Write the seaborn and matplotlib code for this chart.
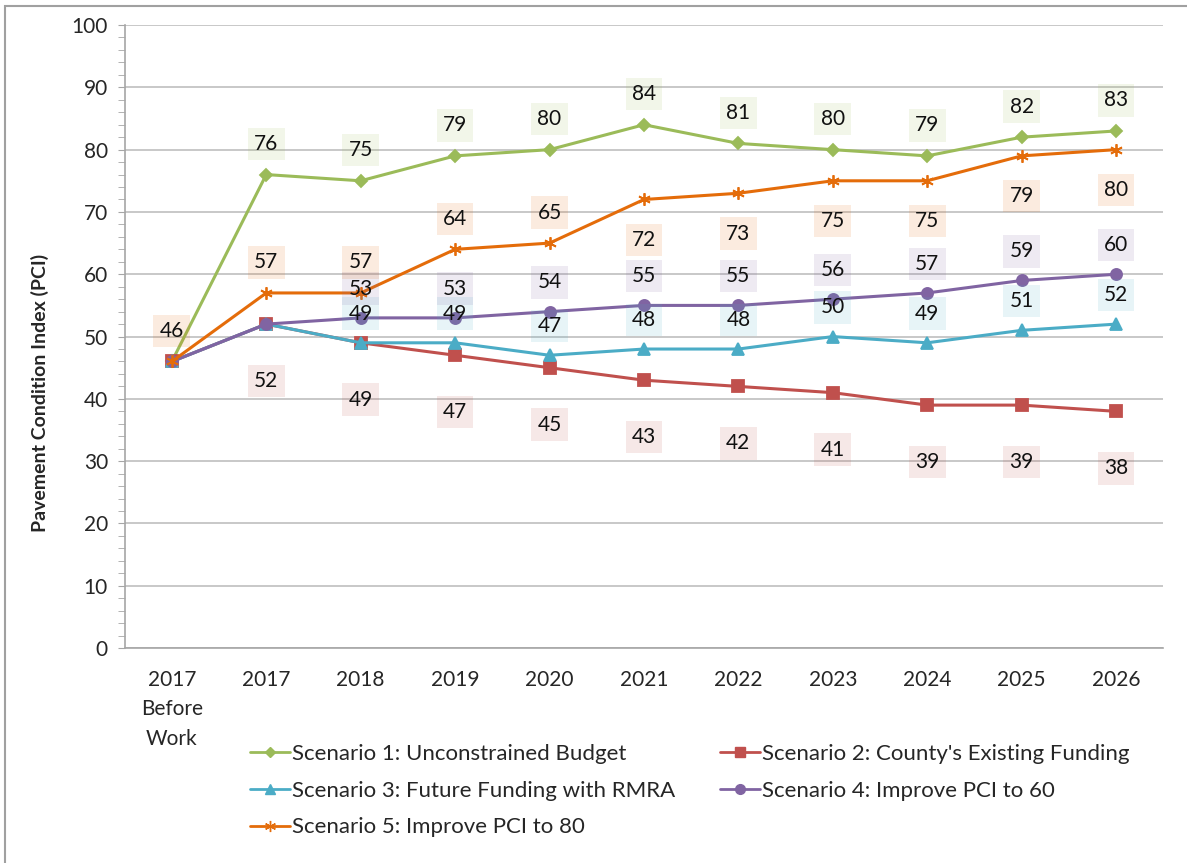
"""Pavement condition index by funding scenario."""

import matplotlib.pyplot as plt
from matplotlib.patches import Rectangle
from matplotlib.ticker import MultipleLocator
import pandas as pd
import seaborn as sns

years = ['2017\nBefore\nWork', '2017', '2018', '2019', '2020', '2021',
         '2022', '2023', '2024', '2025', '2026']
s1 = [46, 76, 75, 79, 80, 84, 81, 80, 79, 82, 83]
s2 = [46, 52, 49, 47, 45, 43, 42, 41, 39, 39, 38]
s3 = [46, 52, 49, 49, 47, 48, 48, 50, 49, 51, 52]
s4 = [46, 52, 53, 53, 54, 55, 55, 56, 57, 59, 60]
s5 = [46, 57, 57, 64, 65, 72, 73, 75, 75, 79, 80]
names = ['Scenario 1: Unconstrained Budget',
         "Scenario 2: County's Existing Funding",
         'Scenario 3: Future Funding with RMRA',
         'Scenario 4: Improve PCI to 60',
         'Scenario 5: Improve PCI to 80']

colors = ['#9BBB59', '#C0504D', '#4BACC6', '#8064A2', '#E46C0A']
markers = ['D', 's', '^', 'o', (6, 2, 0)]
sizes = [6, 8, 8, 8, 9]

# which points get a label, and on which side (+1 above, -1 below, 0 none)
sides = [
    [0] + [1] * 10,
    [0] + [-1] * 10,
    [0, 0] + [1] * 9,
    [0, 0] + [1] * 9,
    [1, 1, 1, 1, 1] + [-1] * 6,
]
# label distance from the point (points), above / below, per series
up = [22, 22, 21, 21, 22]
down = [-30, -41, -30, -30, -29]

series = [s1, s2, s3, s4, s5]

sns.set_style('white')
plt.rcParams['font.family'] = ['Lato', 'DejaVu Sans']

fig = plt.figure(figsize=(11.87, 8.63), dpi=100)
ax = fig.add_axes([0.105, 0.249, 0.875, 0.722])

for name, vals, c, m, ms in zip(names, series, colors, markers, sizes):
    df = pd.DataFrame({'x': range(len(vals)), 'pci': vals})
    sns.lineplot(data=df, x='x', y='pci', color=c, marker=m, markersize=ms,
                 markeredgecolor=c, markeredgewidth=1.3, linewidth=2.2,
                 ax=ax)

for vals, side, c, u, d in zip(series, sides, colors, up, down):
    for i, (v, s) in enumerate(zip(vals, side)):
        if s == 0:
            continue
        ax.annotate(str(v), (i, v), xytext=(0, u if s > 0 else d),
                    textcoords='offset points', ha='center', va='center',
                    fontsize=15, color='#111111',
                    bbox=dict(boxstyle='square,pad=0.3', fc=c, alpha=0.13,
                              ec='none'))

ax.set_xlim(-0.5, 10.5)
ax.set_ylim(0, 100)
ax.set_xticks(range(len(years)))
ax.set_xticklabels(years, fontsize=15, linespacing=1.6)
ax.yaxis.set_major_locator(MultipleLocator(10))
ax.yaxis.set_minor_locator(MultipleLocator(2))
ax.tick_params(axis='y', which='both', left=True, length=5, color='#A6A6A6',
               labelsize=15, pad=7)
ax.tick_params(axis='x', bottom=False, pad=12)
ax.grid(axis='y', color='#BFBFBF', linewidth=1.2)
ax.set_axisbelow(True)
for sp in ['top', 'right']:
    ax.spines[sp].set_visible(False)
for sp in ['left', 'bottom']:
    ax.spines[sp].set_color('#A6A6A6')
    ax.spines[sp].set_linewidth(1.2)
ax.set_xlabel('')
ax.set_ylabel('Pavement Condition Index (PCI)', fontsize=14,
              fontweight='bold')
ax.yaxis.set_label_coords(-0.073, 0.41)

order = [0, 2, 4, 1, 3]
handles = [plt.Line2D([], [], color=colors[k], marker=markers[k],
                      markersize=sizes[k] - 1, markeredgecolor=colors[k],
                      linewidth=2) for k in order]
fig.legend(handles, [names[k] for k in order], ncol=2, frameon=False,
           loc='upper left', bbox_to_anchor=(0.203, 0.148), fontsize=16,
           handlelength=1.8, handletextpad=0.1, columnspacing=2.0,
           labelspacing=0.75, borderaxespad=0)

fig.patches.append(Rectangle((0.004, -0.01), 1.0, 1.003,
                             transform=fig.transFigure, fill=False,
                             ec='#A0A0A0', lw=1.5))

fig.savefig('out.png', dpi=100)
